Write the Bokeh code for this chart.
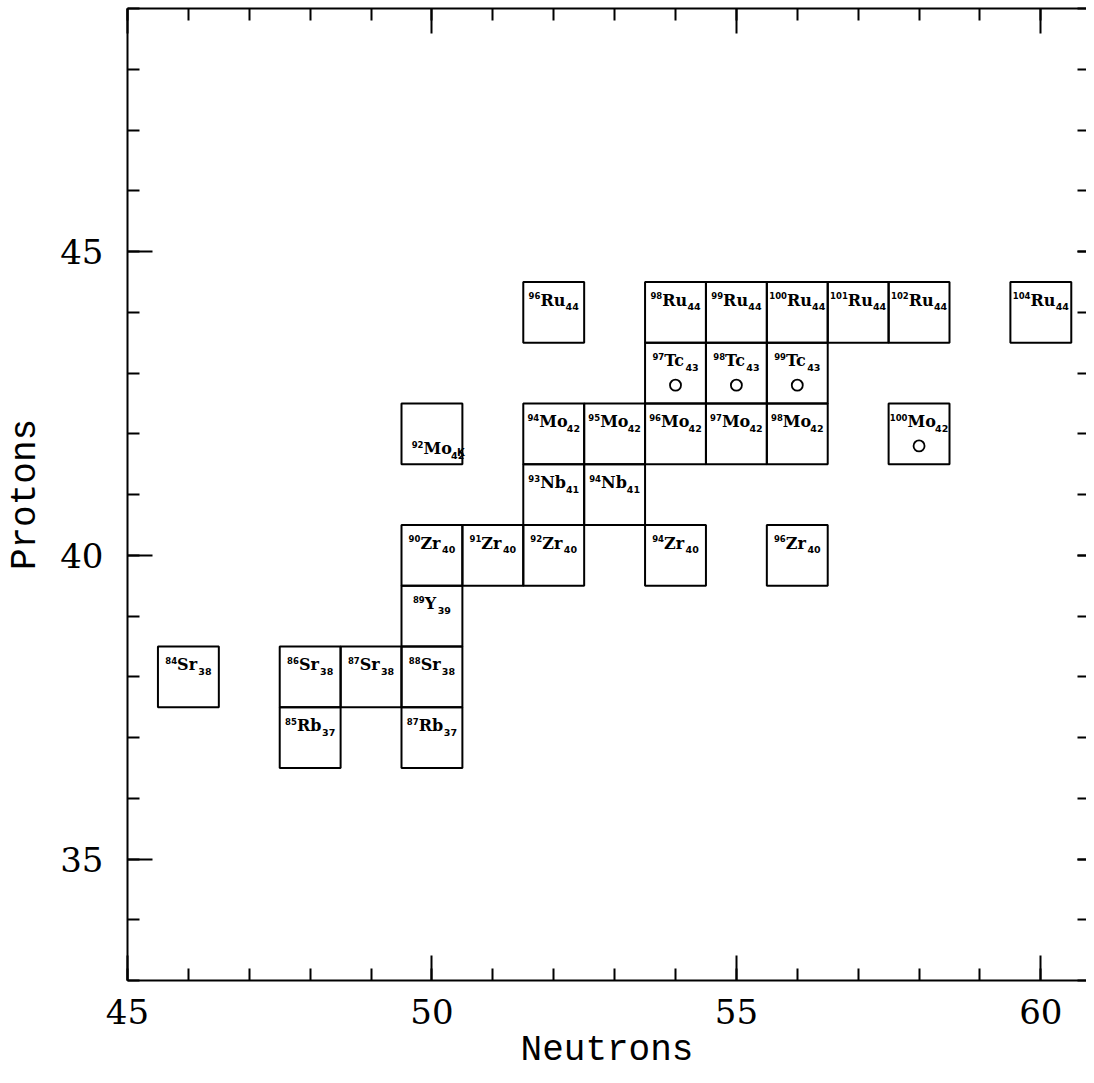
from bokeh.plotting import figure
from bokeh.models import ColumnDataSource, LinearAxis, SingleIntervalTicker, Range1d
from bokeh.embed import file_html
from bokeh.resources import INLINE
from bokeh.core.properties import value

# ---- data ----
neutrons = [52, 54, 55, 56, 57, 58, 60,
            54, 55, 56,
            50, 52, 53, 54, 55, 56, 58,
            52, 53,
            50, 51, 52, 54, 56,
            50,
            46, 48, 49, 50,
            48, 50]
protons = [44] * 7 + [43] * 3 + [42] * 7 + [41] * 2 + [40] * 5 + [39] + [38] * 4 + [37] * 2
elements = ["Ru"] * 7 + ["Tc"] * 3 + ["Mo"] * 7 + ["Nb"] * 2 + ["Zr"] * 5 + ["Y"] + ["Sr"] * 4 + ["Rb"] * 2
masses = [96, 98, 99, 100, 101, 102, 104,
          97, 98, 99,
          92, 94, 95, 96, 97, 98, 100,
          93, 94,
          90, 91, 92, 94, 96,
          89,
          84, 86, 87, 88,
          85, 87]
circle_n = [54, 55, 56, 58]
circle_z = [43, 43, 43, 42]
odd_label = "92Mo"   # label drawn lower, with a stray mark
x_title = "Neutrons"
y_title = "Protons"

X0, X1, Y0, Y1 = 45, 60.75, 33, 49

# ---- approximate glyph widths (em) for layout ----
EL_SIZE = 16
SUP_SIZE = 8.5
SUB_SIZE = 9.5
serif_w = {"R": .80, "u": .71, "T": .70, "c": .56, "M": .99, "o": .67, "N": .84,
           "b": .71, "Z": .75, "r": .54, "Y": .75, "S": .72}
DIG = 0.696


def w_el(s):
    return sum(serif_w.get(ch, .65) for ch in s) * EL_SIZE


src = dict(x=[], y_el=[], y_sup=[], y_sub=[], el=[], sup=[], sub=[], ox_el=[], ox_sup=[], ox_sub=[])
for n, z, e, a in zip(neutrons, protons, elements, masses):
    sup = str(a)
    sub = str(z)
    ws = len(sup) * DIG * SUP_SIZE
    we = w_el(e)
    wb = len(sub) * DIG * SUB_SIZE
    W = ws + we + wb + 1
    x0 = -W / 2
    dy = 0.0
    if f"{a}{e}" == odd_label:
        x0 += 6
        dy = -0.44
    src["x"].append(n)
    src["y_el"].append(z + 0.20 + dy)
    src["y_sup"].append(z + 0.27 + dy)
    src["y_sub"].append(z + 0.09 + dy)
    src["el"].append(e)
    src["sup"].append(sup)
    src["sub"].append(sub)
    src["ox_sup"].append(x0)
    src["ox_el"].append(x0 + ws)
    src["ox_sub"].append(x0 + ws + we + 1)
source = ColumnDataSource(src)

p = figure(width=1086, height=1083,
           x_range=Range1d(X0, X1), y_range=Range1d(Y0, Y1),
           output_backend="svg", toolbar_location=None,
           min_border_left=127, min_border_right=0, min_border_top=8, min_border_bottom=103)
p.grid.visible = False
p.outline_line_color = None
p.background_fill_color = "white"
p.border_fill_color = "white"

# cells
p.rect(x=neutrons, y=protons, width=1, height=1, fill_color=None,
       line_color="black", line_width=2)

# circle markers
p.scatter(x=circle_n, y=[z - 0.2 for z in circle_z], marker="circle", size=11,
          fill_color=None, line_color="black", line_width=1.8)

# labels
p.text(x="x", y="y_el", text="el", x_offset="ox_el", source=source,
       text_font=value("DejaVu Serif"), text_font_style="bold", text_font_size=f"{EL_SIZE}px",
       text_baseline="alphabetic", text_align="left", text_color="black")
p.text(x="x", y="y_sup", text="sup", x_offset="ox_sup", source=source,
       text_font=value("DejaVu Sans"), text_font_style="bold", text_font_size=f"{SUP_SIZE}px",
       text_baseline="alphabetic", text_align="left", text_color="black")
p.text(x="x", y="y_sub", text="sub", x_offset="ox_sub", source=source,
       text_font=value("DejaVu Sans"), text_font_style="bold", text_font_size=f"{SUB_SIZE}px",
       text_baseline="alphabetic", text_align="left", text_color="black")
# stray mark after 92Mo label
p.text(x=[50], y=[42 - 0.31], text=["K"], x_offset=[25],
       text_font=value("DejaVu Sans"), text_font_style="bold", text_font_size="10px",
       text_baseline="alphabetic", text_align="left", text_color="black")


def style_axis(ax, labels=True):
    ax.ticker = SingleIntervalTicker(interval=5, num_minor_ticks=5)
    ax.axis_line_width = 2
    ax.axis_line_color = "black"
    ax.major_tick_in = 25
    ax.major_tick_out = 0
    ax.minor_tick_in = 12
    ax.minor_tick_out = 0
    ax.major_tick_line_width = 2
    ax.minor_tick_line_width = 2
    ax.major_tick_line_color = "black"
    ax.minor_tick_line_color = "black"
    if labels:
        ax.major_label_text_font = "DejaVu Serif"
        ax.major_label_text_font_size = "34px"
        ax.major_label_text_color = "black"
        ax.axis_label_text_font = "Liberation Mono"
        ax.axis_label_text_font_size = "36px"
        ax.axis_label_text_font_style = "normal"
        ax.axis_label_text_color = "black"
    else:
        ax.major_label_text_font_size = "0px"
        ax.major_label_text_color = None
        ax.major_label_standoff = 0


style_axis(p.xaxis[0])
style_axis(p.yaxis[0])
p.xaxis.axis_label = x_title
p.yaxis.axis_label = y_title
p.xaxis.major_label_standoff = 18
p.xaxis.axis_label_standoff = 3
p.yaxis.major_label_standoff = 24
p.yaxis.axis_label_standoff = 11

top = LinearAxis()
style_axis(top, labels=False)
p.add_layout(top, "above")

right = LinearAxis()
style_axis(right, labels=False)
right.axis_line_color = None
right.major_tick_in = 9
right.minor_tick_in = 9
p.add_layout(right, "right")

open("out.html", "w").write(file_html(p, INLINE))
